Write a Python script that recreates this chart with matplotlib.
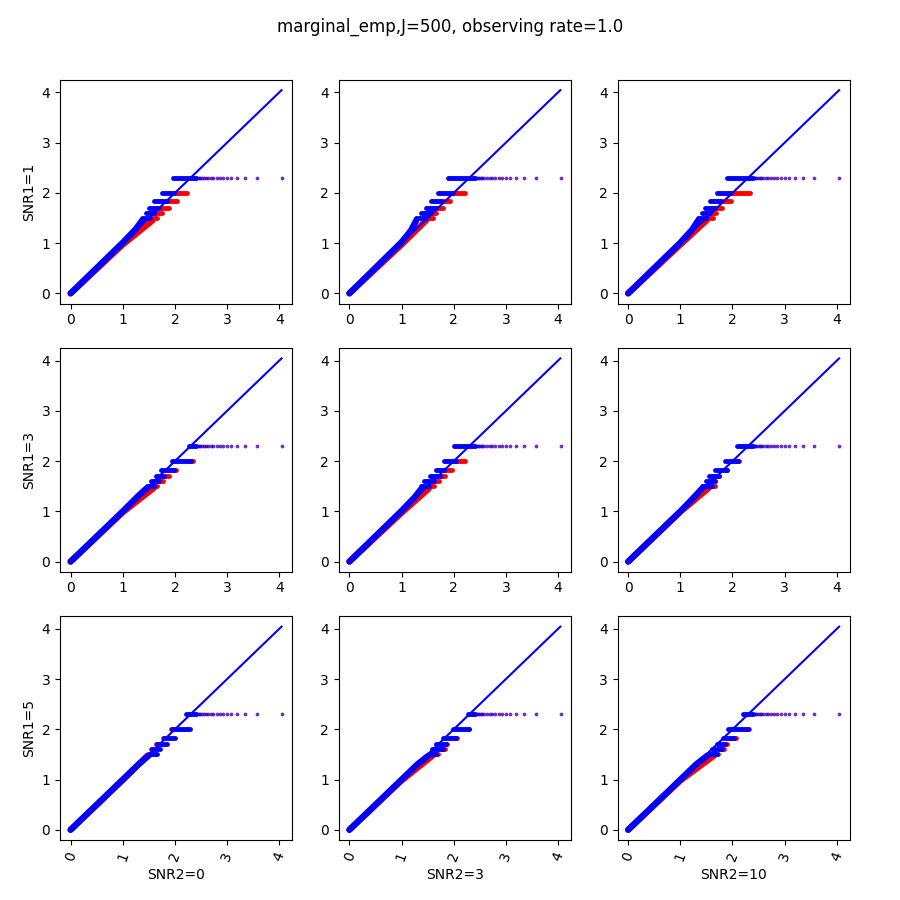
import matplotlib
matplotlib.use("Agg")
import matplotlib.pyplot as plt

TITLE = "marginal_emp,J=500, observing rate=1.0"
row_labels = ["SNR1=1", "SNR1=3", "SNR1=5"]
col_labels = ["SNR2=0", "SNR2=3", "SNR2=10"]

# theoretical max of the reference line
diag_max = 4.045

# step levels of the empirical quantiles (top one carries the sparse tail)
top_level = 2.30
levels = [2.00, 1.83, 1.70, 1.60, 1.50]

# x where the dense blue run at the top level starts, per panel
top_start = [[1.97, 1.89, 1.90],
             [2.27, 2.01, 2.08],
             [2.21, 2.27, 2.21]]
top_dense_end = 2.40
# sparse tail at the top level (same in all panels)
tail_x = [2.43, 2.46, 2.49, 2.52, 2.55, 2.59, 2.64, 2.69, 2.74, 2.80,
          2.86, 2.93, 3.00, 3.08, 3.20, 3.35, 3.57, 4.05]

# (x0, x1) per level, per panel
blue_steps = [
    [[(1.76, 1.98), (1.60, 1.85), (1.50, 1.70), (1.44, 1.60), (1.37, 1.53)],
     [(1.70, 1.98), (1.57, 1.76), (1.46, 1.66), (1.38, 1.57), (1.28, 1.47)],
     [(1.70, 1.98), (1.57, 1.76), (1.47, 1.66), (1.41, 1.57), (1.34, 1.50)]],
    [[(1.95, 2.30), (1.73, 1.98), (1.63, 1.80), (1.55, 1.70), (1.47, 1.60)],
     [(1.82, 2.05), (1.66, 1.82), (1.54, 1.73), (1.44, 1.63), (1.38, 1.52)],
     [(1.86, 2.11), (1.66, 1.89), (1.54, 1.74), (1.50, 1.66), (1.41, 1.61)]],
    [[(1.95, 2.29), (1.79, 2.01), (1.66, 1.84), (1.57, 1.71), (1.52, 1.66)],
     [(1.98, 2.29), (1.79, 2.05), (1.66, 1.85), (1.59, 1.79), (1.54, 1.66)],
     [(1.92, 2.30), (1.82, 2.03), (1.70, 1.85), (1.60, 1.79), (1.54, 1.70)]],
]
red_steps = [
    [[(2.01, 2.24), (1.85, 2.05), (1.73, 1.89), (1.62, 1.75), (1.57, 1.66)],
     [(1.98, 2.21), (1.76, 1.92), (1.66, 1.79), (1.57, 1.66), (1.47, 1.60)],
     [(1.95, 2.33), (1.76, 1.97), (1.66, 1.80), (1.57, 1.69), (1.50, 1.63)]],
    [[(2.30, 2.35), (1.98, 2.03), (1.80, 1.89), (1.70, 1.78), (1.60, 1.66)],
     [(2.05, 2.22), (1.82, 1.97), (1.73, 1.84), (1.63, 1.71), (1.52, 1.63)],
     [(2.10, 2.13), (1.87, 1.89), (1.72, 1.74), (1.64, 1.66), (1.61, 1.66)]],
    [[(1.93, 1.95), (1.77, 1.79), (1.64, 1.66), (1.55, 1.57), (1.50, 1.52)],
     [(2.27, 2.29), (2.03, 2.06), (1.85, 1.87), (1.79, 1.84), (1.66, 1.70)],
     [(2.28, 2.32), (1.98, 2.07), (1.85, 1.90), (1.79, 1.84), (1.70, 1.73)]],
]

# dense part along the diagonal: (x, y) knots
blue_band = [
    [[(0, 0), (1.0, 1.01), (1.25, 1.28), (1.37, 1.45)],
     [(0, 0), (1.0, 1.02), (1.18, 1.25), (1.28, 1.45)],
     [(0, 0), (1.0, 1.01), (1.22, 1.26), (1.34, 1.45)]],
    [[(0, 0), (1.0, 1.0), (1.30, 1.31), (1.47, 1.47)],
     [(0, 0), (1.0, 1.01), (1.25, 1.28), (1.38, 1.45)],
     [(0, 0), (1.0, 1.0), (1.28, 1.30), (1.41, 1.45)]],
    [[(0, 0), (1.0, 1.0), (1.30, 1.30), (1.50, 1.48)],
     [(0, 0), (1.0, 1.0), (1.30, 1.30), (1.52, 1.48)],
     [(0, 0), (1.0, 1.0), (1.30, 1.30), (1.52, 1.48)]],
]
red_band = [
    [[(0, 0), (1.0, 0.97), (1.57, 1.45)],
     [(0, 0), (1.0, 0.97), (1.47, 1.45)],
     [(0, 0), (1.0, 0.97), (1.50, 1.45)]],
    [[(0, 0), (1.0, 0.98), (1.60, 1.47)],
     [(0, 0), (1.0, 0.97), (1.52, 1.45)],
     [(0, 0), (1.0, 0.99), (1.55, 1.47)]],
    [[(0, 0), (1.0, 0.99), (1.48, 1.48)],
     [(0, 0), (1.0, 0.98), (1.60, 1.48)],
     [(0, 0), (1.0, 0.98), (1.65, 1.48)]],
]

fig, axes = plt.subplots(3, 3, figsize=(9, 9), dpi=100)
fig.subplots_adjust(left=0.0667, right=0.9444, bottom=0.0667, top=0.9111,
                    wspace=0.2, hspace=0.2)
fig.suptitle(TITLE)

lw = 3.5
band_lw = 4.5
for r in range(3):
    for c in range(3):
        ax = axes[r][c]
        # red first, blue on top
        bx, by = zip(*red_band[r][c])
        ax.plot(bx, by, color='red', lw=band_lw, solid_capstyle='round', solid_joinstyle='round')
        for lev, (x0, x1) in zip(levels, red_steps[r][c]):
            ax.plot([x0, x1], [lev, lev], color='red', lw=lw, solid_capstyle='round')
        bx, by = zip(*blue_band[r][c])
        ax.plot(bx, by, color='blue', lw=band_lw, solid_capstyle='round', solid_joinstyle='round')
        for lev, (x0, x1) in zip(levels, blue_steps[r][c]):
            ax.plot([x0, x1], [lev, lev], color='blue', lw=lw, solid_capstyle='round')
        ax.plot([top_start[r][c], top_dense_end], [top_level, top_level],
                color='blue', lw=lw, solid_capstyle='round')
        ax.scatter(tail_x, [top_level] * len(tail_x), s=7, color='red', alpha=0.5, lw=0)
        ax.scatter(tail_x, [top_level] * len(tail_x), s=7, color='blue', alpha=0.6, lw=0)
        ax.plot([0, diag_max], [0, diag_max], color='blue', lw=1.5)

        ax.set_xticks([0, 1, 2, 3, 4])
        ax.set_yticks([0, 1, 2, 3, 4])
        if c == 0:
            ax.set_ylabel(row_labels[r])
        if r == 2:
            ax.set_xlabel(col_labels[c])
            ax.tick_params(axis='x', labelrotation=70)

fig.savefig("out.png")
